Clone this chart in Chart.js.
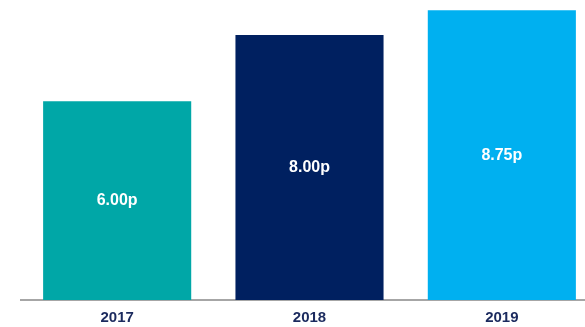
<!DOCTYPE html>
<html>
<head>
<meta charset="utf-8">
<script src="https://cdn.jsdelivr.net/npm/chart.js@4"></script>
<style>
  html, body { margin: 0; padding: 0; background: #fff; overflow: hidden; }
  #wrap { width: 600px; height: 327px; }
</style>
</head>
<body>
<div id="wrap"><canvas id="c"></canvas></div>
<script>
// 年度與股息數值
const years = ['2017', '2018', '2019'];
const dividends = [6.00, 8.00, 8.75];
const barColors = ['#00A7A7', '#002060', '#00B0F0'];
const valueLabels = ['6.00p', '8.00p', '8.75p'];

// 在每根柱子中間寫數值
const barLabels = {
  id: 'barLabels',
  afterDatasetsDraw(chart) {
    const ctx = chart.ctx;
    const meta = chart.getDatasetMeta(0);
    ctx.save();
    ctx.fillStyle = '#ffffff';
    ctx.font = 'bold 16px "Liberation Sans", Arial, sans-serif';
    ctx.textAlign = 'center';
    ctx.textBaseline = 'middle';
    meta.data.forEach((bar, i) => {
      const midY = (bar.y + bar.base) / 2;
      ctx.fillText(valueLabels[i], bar.x, midY);
    });
    ctx.restore();
  }
};

new Chart(document.getElementById('c'), {
  type: 'bar',
  data: {
    labels: years,
    datasets: [{
      data: dividends,
      backgroundColor: barColors,
      borderWidth: 0,
      categoryPercentage: 0.77,
      barPercentage: 1.0
    }]
  },
  options: {
    responsive: true,
    maintainAspectRatio: false,
    animation: false,
    layout: { padding: { left: 21, right: 2, top: 2, bottom: 0 } },
    plugins: {
      legend: { display: false },
      tooltip: { enabled: false }
    },
    scales: {
      x: {
        grid: { display: false, drawTicks: false },
        border: { display: true, color: '#a6a6a6', width: 2 },
        ticks: {
          color: '#1B2A5E',
          padding: 9,
          font: { family: '"Liberation Sans", Arial, sans-serif', size: 15, weight: 'bold' }
        },
        afterFit(scale) { scale.height = 27; }
      },
      y: {
        display: false,
        min: 0,
        max: 9
      }
    }
  },
  plugins: [barLabels]
});
</script>
</body>
</html>
